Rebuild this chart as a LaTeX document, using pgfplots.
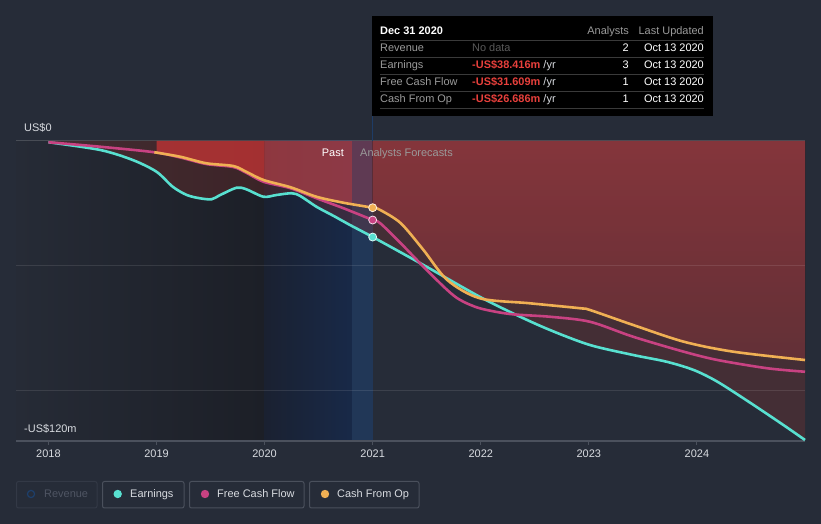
\documentclass[border=0pt]{standalone}
\usepackage{fontspec}
\setmainfont{Liberation Sans}
\usepackage{xcolor}
\usepackage{pgfplots}
\pgfplotsset{compat=1.18}
\usepackage{pgfplotstable}
\usepgfplotslibrary{fillbetween}

\definecolor{bg}{HTML}{262C38}
\definecolor{cyanl}{HTML}{58E0D0}
\definecolor{magl}{HTML}{C84282}
\definecolor{orl}{HTML}{F0B054}
\definecolor{redf}{RGB}{192,57,43}
\definecolor{hired}{RGB}{200,52,56}
\definecolor{pinkr}{RGB}{186,68,81}
\definecolor{bandr}{RGB}{160,70,110}
\definecolor{ft}{HTML}{76343F}
\definecolor{fb}{HTML}{4B2E3A}
\definecolor{zl}{HTML}{262B36}
\definecolor{zr}{HTML}{1C1F27}
\definecolor{nl}{HTML}{1A2131}
\definecolor{nr}{HTML}{182948}
\definecolor{band}{HTML}{213757}
\definecolor{axisg}{HTML}{4B515D}
\definecolor{txt}{HTML}{D8DBE0}
\definecolor{ttgray}{HTML}{9A9A9A}
\definecolor{ttdim}{HTML}{5A5A5A}
\definecolor{ttline}{HTML}{3A3A3A}
\definecolor{ttred}{HTML}{E8403C}
\definecolor{legbox}{HTML}{4A505C}
\definecolor{legdim}{HTML}{333946}
\definecolor{revblue}{HTML}{1D3F6B}
\definecolor{revtxt}{HTML}{4F5563}
\definecolor{cross}{HTML}{1E3C66}
\pagecolor{bg}

\newcommand\f{\fontsize{11}{13}\selectfont}

\pgfplotstableread{
x y
2018.00 -0.5
2018.48 -3.6
2018.78 -7.6
2019.00 -12.3
2019.15 -18.3
2019.28 -21.6
2019.40 -22.9
2019.51 -23.3
2019.59 -21.6
2019.74 -18.7
2019.83 -19.3
2019.99 -22.3
2020.11 -21.6
2020.25 -20.9
2020.33 -22.0
2020.48 -26.3
2020.64 -30.0
2020.79 -33.6
2021.00 -38.4
2021.47 -49.6
2021.99 -62.3
2022.33 -69.6
2022.64 -75.6
2023.01 -81.6
2023.41 -85.6
2023.72 -88.3
2023.97 -91.6
2024.19 -96.3
2024.50 -104.9
2024.80 -113.6
2025.00 -119.6
}\earn

\pgfplotstableread{
x y
2018.00 -0.5
2018.48 -2.3
2018.98 -4.5
2019.22 -6.6
2019.46 -9.2
2019.71 -10.4
2019.83 -12.7
2019.99 -16.3
2020.24 -18.9
2020.48 -22.9
2020.73 -26.9
2021.00 -31.6
2021.07 -32.9
2021.26 -40.9
2021.47 -50.3
2021.69 -59.6
2021.81 -63.6
2021.99 -66.9
2022.27 -69.2
2022.64 -70.3
2023.01 -72.3
2023.41 -78.3
2023.88 -84.3
2024.19 -87.6
2024.65 -90.9
2025.00 -92.3
}\fcf

\pgfplotstableread{
x y
2018.98 -4.5
2019.22 -6.3
2019.46 -8.9
2019.71 -10.0
2019.83 -12.3
2019.99 -15.6
2020.24 -18.5
2020.48 -22.3
2020.73 -24.7
2021.00 -26.7
2021.07 -27.6
2021.26 -32.9
2021.47 -43.6
2021.69 -55.6
2021.99 -62.9
2022.45 -64.9
2022.92 -66.9
2023.01 -67.6
2023.41 -73.6
2023.88 -80.3
2024.34 -84.3
2025.00 -87.6
}\cfo

\begin{document}%
\begin{tikzpicture}
\path (0,0) rectangle (821bp,524bp);
\begin{axis}[
  at={(16bp,83bp)}, anchor=south west,
  scale only axis, width=789bp, height=300bp,
  xmin=2017.7, xmax=2025, ymin=-120, ymax=0,
  axis line style={draw=none},
  xtick={2018,2019,2020,2021,2022,2023,2024}, xticklabels={},
  xtick pos=bottom, tick align=outside, major tick length=4bp,
  xtick style={draw=axisg, line width=1bp},
  ytick=\empty, clip=false, set layers]

% background zones
\begin{pgfonlayer}{axis background}
\fill[left color=zl, right color=zr] (axis cs:2017.7,-120) rectangle (axis cs:2020,0);
\fill[left color=nl, right color=nr] (axis cs:2020,-120) rectangle (axis cs:2020.808,0);
\fill[band] (axis cs:2020.808,-120) rectangle (axis cs:2021,0);
\end{pgfonlayer}

% named paths
\addplot[draw=none, name path=Z] coordinates {(2017.7,0) (2025,0)};
\addplot[draw=none, smooth, name path=C] table {\cfo};

% base fill between zero and earnings
\addplot[fill=redf, fill opacity=0.2, draw=none, smooth] table {\earn} -- (axis cs:2025,0) -- (axis cs:2018,0) -- cycle;
% highlighted fills between zero and cash from op
\addplot[fill=hired, fill opacity=0.75, draw=none] fill between[of=Z and C, soft clip={domain=2019:2020}];
\addplot[fill=pinkr, fill opacity=0.65, draw=none] fill between[of=Z and C, soft clip={domain=2020:2020.808}];
\addplot[fill=bandr, fill opacity=0.3, draw=none] fill between[of=Z and C, soft clip={domain=2020.808:2021}];
\addplot[top color=ft, bottom color=fb, draw=none] fill between[of=Z and C, soft clip={domain=2021:2025}];

% grid lines
\draw[white, opacity=0.1, line width=1bp] (axis cs:2017.7,-50) -- (axis cs:2025,-50);
\draw[white, opacity=0.1, line width=1bp] (axis cs:2017.7,-100) -- (axis cs:2025,-100);
\draw[white, opacity=0.16, line width=1bp] (axis cs:2017.7,0) -- (axis cs:2025,0);
\draw[axisg, line width=1.3bp] (axis cs:2017.7,-120) -- (axis cs:2025,-120);

% lines
\addplot[cyanl, line width=2.6bp, smooth] table {\earn};
\addplot[magl, line width=2.6bp, smooth] table {\fcf};
\addplot[orl, line width=2.6bp, smooth] table {\cfo};

% markers at Dec 31 2020
\addplot[only marks, mark=*, mark size=4bp, mark options={fill=cyanl, draw=white!80!cyanl, line width=0.8bp}] coordinates {(2021,-38.416)};
\addplot[only marks, mark=*, mark size=4bp, mark options={fill=magl, draw=white!80!magl, line width=0.8bp}] coordinates {(2021,-31.609)};
\addplot[only marks, mark=*, mark size=4bp, mark options={fill=orl, draw=white!80!orl, line width=0.8bp}] coordinates {(2021,-26.686)};

% year labels
\node[anchor=base, inner sep=0, text=txt, font=\f] at (axis cs:2018,-120) [yshift=-17bp] {2018};
\node[anchor=base, inner sep=0, text=txt, font=\f] at (axis cs:2019,-120) [yshift=-17bp] {2019};
\node[anchor=base, inner sep=0, text=txt, font=\f] at (axis cs:2020,-120) [yshift=-17bp] {2020};
\node[anchor=base, inner sep=0, text=txt, font=\f] at (axis cs:2021,-120) [yshift=-17bp] {2021};
\node[anchor=base, inner sep=0, text=txt, font=\f] at (axis cs:2022,-120) [yshift=-17bp] {2022};
\node[anchor=base, inner sep=0, text=txt, font=\f] at (axis cs:2023,-120) [yshift=-17bp] {2023};
\node[anchor=base, inner sep=0, text=txt, font=\f] at (axis cs:2024,-120) [yshift=-17bp] {2024};
\end{axis}

\begin{scope}[yshift=524bp, x=1bp, y=-1bp]
% axis value labels
\node[anchor=base west, inner sep=0, text=txt, font=\f] at (24,132) {US\$0};
\node[anchor=base west, inner sep=0, text=txt, font=\f] at (24,433) {-US\$120m};
\node[anchor=base east, inner sep=0, text=white, font=\f] at (344,157) {Past};
\node[anchor=base west, inner sep=0, text=ttgray, font=\f] at (360,157) {Analysts Forecasts};

% crosshair
\draw[cross, line width=1.5bp] (372.5,116) -- (372.5,141);

% tooltip
\fill[black] (372,16) rectangle (713,116);
\foreach \yy in {40.5,57.5,74.5,91.5,108.5}{\draw[ttline, line width=0.8bp] (380,\yy) -- (704,\yy);}
\node[anchor=base west, inner sep=0, text=white, font=\f\bfseries] at (380,35) {Dec 31 2020};
\node[anchor=base east, inner sep=0, text=ttgray, font=\f] at (629,35) {Analysts};
\node[anchor=base east, inner sep=0, text=ttgray, font=\f] at (704,35) {Last Updated};

\node[anchor=base west, inner sep=0, text=ttgray, font=\f] at (380,52) {Revenue};
\node[anchor=base west, inner sep=0, text=ttdim, font=\f] at (472,52) {No data};
\node[anchor=base east, inner sep=0, text=white, font=\f] at (629,52) {2};
\node[anchor=base east, inner sep=0, text=white, font=\f] at (704,52) {Oct 13 2020};

\node[anchor=base west, inner sep=0, text=ttgray, font=\f] at (380,69) {Earnings};
\node[anchor=base west, inner sep=0, font=\f] at (472,69) {\textcolor{ttred}{\bfseries -US\$38.416m} \textcolor{txt}{/yr}};
\node[anchor=base east, inner sep=0, text=white, font=\f] at (629,69) {3};
\node[anchor=base east, inner sep=0, text=white, font=\f] at (704,69) {Oct 13 2020};

\node[anchor=base west, inner sep=0, text=ttgray, font=\f] at (380,86) {Free Cash Flow};
\node[anchor=base west, inner sep=0, font=\f] at (472,86) {\textcolor{ttred}{\bfseries -US\$31.609m} \textcolor{txt}{/yr}};
\node[anchor=base east, inner sep=0, text=white, font=\f] at (629,86) {1};
\node[anchor=base east, inner sep=0, text=white, font=\f] at (704,86) {Oct 13 2020};

\node[anchor=base west, inner sep=0, text=ttgray, font=\f] at (380,103) {Cash From Op};
\node[anchor=base west, inner sep=0, font=\f] at (472,103) {\textcolor{ttred}{\bfseries -US\$26.686m} \textcolor{txt}{/yr}};
\node[anchor=base east, inner sep=0, text=white, font=\f] at (629,103) {1};
\node[anchor=base east, inner sep=0, text=white, font=\f] at (704,103) {Oct 13 2020};

% legend
\draw[legdim, line width=1bp, rounded corners=2bp] (16.5,481.5) rectangle (97,508);
\draw[legbox, line width=1bp, rounded corners=2bp] (102.5,481.5) rectangle (184,508);
\draw[legbox, line width=1bp, rounded corners=2bp] (189.5,481.5) rectangle (304,508);
\draw[legbox, line width=1bp, rounded corners=2bp] (309.5,481.5) rectangle (419,508);
\draw[revblue, line width=1.2bp] (31,494) circle[radius=3.6bp];
\fill[cyanl] (117.7,494) circle[radius=4.2bp];
\fill[magl] (205,494) circle[radius=4.2bp];
\fill[orl] (325,494) circle[radius=4.2bp];
\node[anchor=base west, inner sep=0, text=revtxt, font=\f] at (44,498) {Revenue};
\node[anchor=base west, inner sep=0, text=txt, font=\f] at (130,498) {Earnings};
\node[anchor=base west, inner sep=0, text=txt, font=\f] at (217,498) {Free Cash Flow};
\node[anchor=base west, inner sep=0, text=txt, font=\f] at (337,498) {Cash From Op};
\end{scope}
\end{tikzpicture}%
\end{document}
